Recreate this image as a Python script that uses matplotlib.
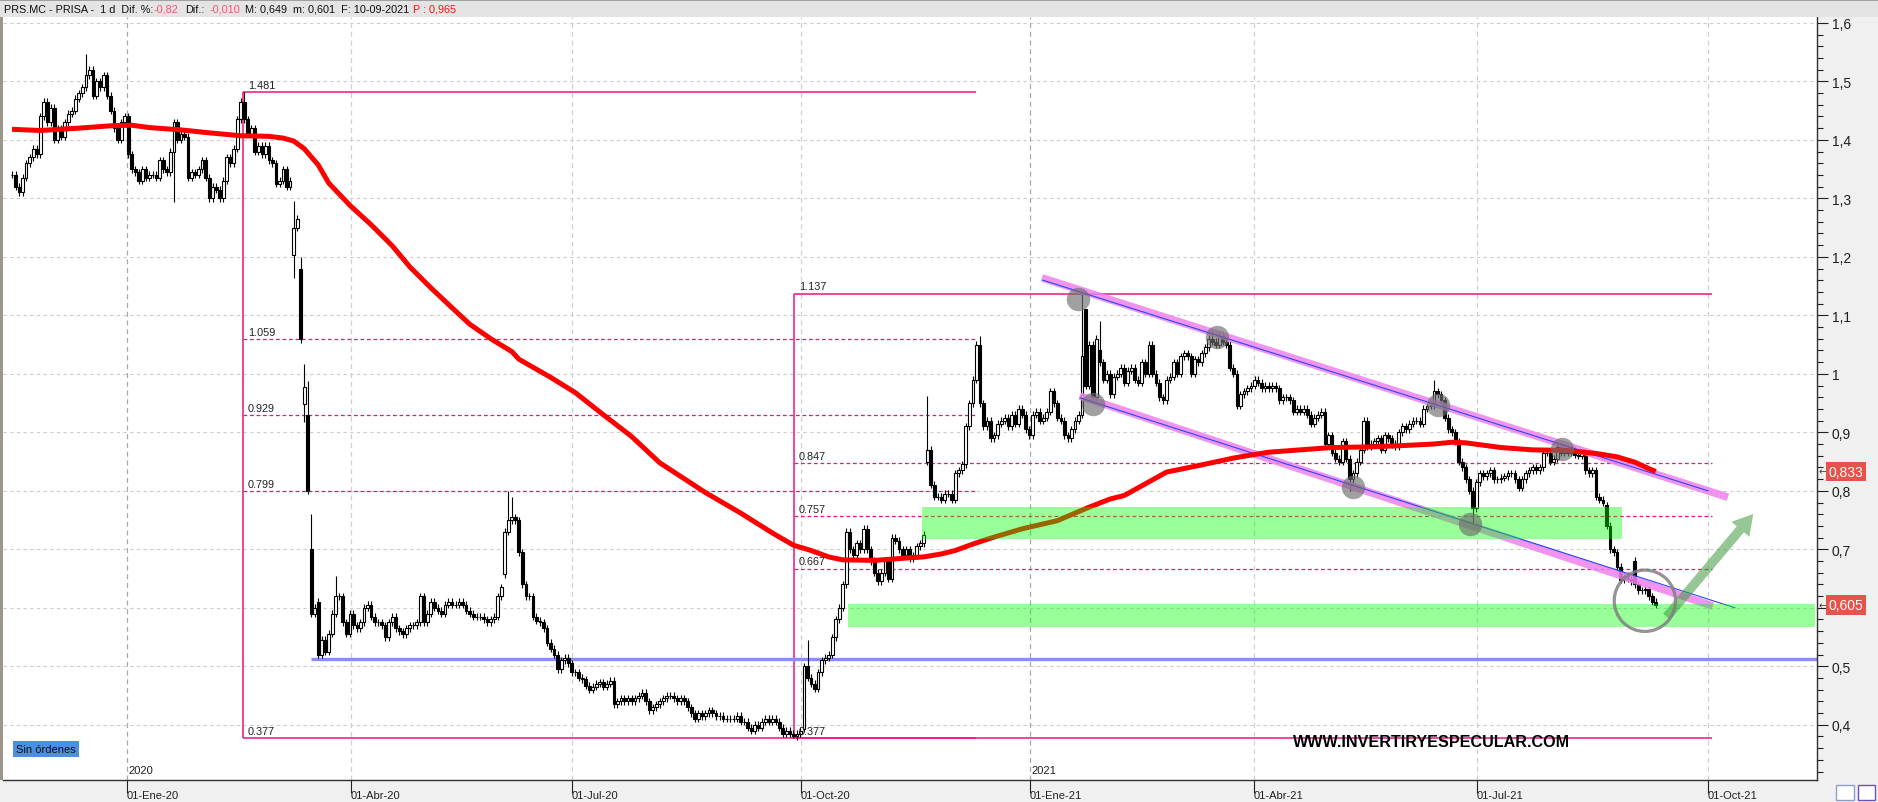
import matplotlib.pyplot as plt
import numpy as np
from matplotlib import font_manager
from matplotlib.patches import Rectangle, FancyArrowPatch
from matplotlib.ticker import MultipleLocator

# PRS.MC daily closes (one per session)
close = [
    1.34, 1.32, 1.31, 1.335, 1.36, 1.37, 1.385, 1.375, 1.44, 1.465,
    1.43, 1.455, 1.40, 1.42, 1.405, 1.43, 1.445, 1.45, 1.47, 1.48,
    1.49, 1.51, 1.52, 1.475, 1.50, 1.49, 1.51, 1.475, 1.45, 1.42,
    1.40, 1.43, 1.44, 1.375, 1.35, 1.345, 1.33, 1.35, 1.335, 1.34,
    1.34, 1.335, 1.365, 1.35, 1.345, 1.38, 1.43, 1.40, 1.41, 1.405,
    1.335, 1.345, 1.34, 1.35, 1.365, 1.335, 1.30, 1.32, 1.315, 1.30,
    1.33, 1.37, 1.36, 1.385, 1.435, 1.465, 1.435, 1.41, 1.42, 1.38,
    1.39, 1.375, 1.39, 1.365, 1.36, 1.325, 1.33, 1.35, 1.32, 1.33,
    1.25, 1.265, 1.059, 0.978, 0.80, 0.59, 0.60, 0.52, 0.545, 0.525,
    0.556, 0.59, 0.62, 0.62, 0.575, 0.556, 0.59, 0.57, 0.565, 0.575,
    0.60, 0.605, 0.585, 0.575, 0.575, 0.57, 0.55, 0.575, 0.585, 0.565,
    0.56, 0.555, 0.565, 0.57, 0.57, 0.575, 0.62, 0.575, 0.59, 0.61,
    0.60, 0.595, 0.59, 0.605, 0.61, 0.605, 0.605, 0.61, 0.605, 0.595,
    0.59, 0.585, 0.585, 0.585, 0.58, 0.575, 0.58, 0.585, 0.62, 0.635,
    0.73, 0.75, 0.755, 0.75, 0.695, 0.64, 0.62, 0.62, 0.585, 0.578,
    0.575, 0.565, 0.54, 0.53, 0.52, 0.495, 0.51, 0.515, 0.505, 0.49,
    0.49, 0.48, 0.478, 0.467, 0.46, 0.465, 0.47, 0.473, 0.465, 0.47,
    0.475, 0.435, 0.44, 0.445, 0.44, 0.445, 0.44, 0.445, 0.45, 0.455,
    0.44, 0.425, 0.43, 0.435, 0.44, 0.445, 0.45, 0.45, 0.445, 0.44,
    0.445, 0.44, 0.43, 0.42, 0.41, 0.42, 0.415, 0.42, 0.425, 0.42,
    0.415, 0.415, 0.41, 0.41, 0.41, 0.41, 0.415, 0.405, 0.405, 0.395,
    0.39, 0.40, 0.395, 0.405, 0.41, 0.405, 0.41, 0.405, 0.395, 0.385,
    0.39, 0.385, 0.38, 0.385, 0.39, 0.50, 0.48, 0.47, 0.462, 0.49,
    0.51, 0.515, 0.52, 0.55, 0.58, 0.60, 0.64, 0.73, 0.70, 0.69,
    0.71, 0.70, 0.735, 0.70, 0.68, 0.66, 0.645, 0.66, 0.68, 0.65,
    0.72, 0.715, 0.70, 0.69, 0.70, 0.685, 0.69, 0.705, 0.71, 0.725,
    0.87, 0.81, 0.79, 0.79, 0.785, 0.795, 0.795, 0.785, 0.83, 0.835,
    0.845, 0.91, 0.95, 0.99, 1.05, 0.95, 0.91, 0.92, 0.89, 0.895,
    0.915, 0.92, 0.925, 0.91, 0.93, 0.915, 0.94, 0.93, 0.905, 0.895,
    0.93, 0.935, 0.92, 0.925, 0.935, 0.97, 0.95, 0.925, 0.92, 0.895,
    0.89, 0.905, 0.92, 0.93, 1.03, 0.98, 1.05, 0.96, 1.06, 1.02,
    0.99, 1.0, 0.965, 0.995, 1.0, 1.01, 0.985, 1.005, 1.01, 0.99,
    0.985, 1.02, 1.0, 1.05, 1.0, 0.985, 0.96, 0.955, 0.99, 0.995,
    1.02, 1.0, 1.03, 1.035, 1.03, 1.0, 1.025, 1.02, 1.035, 1.045,
    1.06, 1.055, 1.05, 1.065, 1.055, 1.05, 1.01, 1.0, 0.945, 0.965,
    0.97, 0.975, 0.98, 0.99, 0.985, 0.975, 0.98, 0.975, 0.98, 0.975,
    0.955, 0.96, 0.96, 0.955, 0.935, 0.94, 0.935, 0.94, 0.93, 0.915,
    0.925, 0.93, 0.935, 0.88, 0.895, 0.865, 0.855, 0.85, 0.885, 0.855,
    0.82, 0.83, 0.85, 0.87, 0.92, 0.875, 0.88, 0.885, 0.89, 0.87,
    0.895, 0.89, 0.88, 0.875, 0.90, 0.91, 0.905, 0.915, 0.92, 0.92,
    0.915, 0.94, 0.945, 0.945, 0.97, 0.965, 0.955, 0.925, 0.905, 0.90,
    0.885, 0.85, 0.84, 0.82, 0.80, 0.77, 0.815, 0.83, 0.825, 0.83,
    0.835, 0.82, 0.82, 0.822, 0.825, 0.83, 0.83, 0.82, 0.805, 0.82,
    0.83, 0.835, 0.84, 0.835, 0.84, 0.865, 0.865, 0.85, 0.855, 0.875,
    0.865, 0.87, 0.865, 0.87, 0.862, 0.86, 0.865, 0.835, 0.83, 0.835,
    0.79, 0.785, 0.78, 0.74, 0.70, 0.695, 0.67, 0.648, 0.655, 0.65,
    0.645, 0.64, 0.63, 0.63, 0.632, 0.62, 0.61, 0.605,
]
# sessions that opened with a gap (open != previous close)
gap_open = {80: 1.203, 82: 1.18, 83: 0.949, 84: 0.93, 85: 0.70, 87: 0.61,
            140: 0.657, 225: 0.393, 237: 0.64, 260: 0.85, 304: 0.93, 305: 1.11,
            308: 0.96, 309: 1.04, 453: 0.775, 461: 0.68}
# visible long wicks
hi_spike = {21: 1.547, 66: 1.481, 80: 1.296, 82: 1.20, 83: 1.017, 84: 0.988,
            85: 0.76, 92: 0.655, 141: 0.80, 142: 0.79, 226: 0.545, 260: 0.962,
            275: 1.065, 304: 1.137, 305: 1.11, 309: 1.09, 341: 1.075, 404: 0.99}
lo_spike = {46: 1.294, 80: 1.164, 83: 0.918, 87: 0.515, 222: 0.377,
            380: 0.80, 415: 0.745}

# red moving average
ma_days = [0, 8, 19, 28, 34, 39, 48, 56, 65, 73, 77, 80, 83, 87, 90, 96, 102, 108, 113, 119,
           125, 130, 136, 142, 144, 153, 160, 168, 176, 184, 197, 207, 216, 222, 227, 232, 236,
           245, 254, 259, 264, 268, 273, 278, 287, 297, 306, 312, 316, 328, 337, 347, 357, 366,
           375, 385, 394, 404, 409, 413, 423, 432, 442, 451, 456, 461, 465, 467]
ma_vals = [1.418, 1.416, 1.420, 1.424, 1.425, 1.421, 1.417, 1.412, 1.407, 1.406, 1.403, 1.398,
           1.385, 1.357, 1.326, 1.288, 1.255, 1.219, 1.183, 1.147, 1.113, 1.085, 1.060, 1.038,
           1.025, 0.994, 0.968, 0.930, 0.893, 0.848, 0.797, 0.762, 0.728, 0.707, 0.698, 0.687,
           0.682, 0.681, 0.685, 0.687, 0.692, 0.698, 0.709, 0.719, 0.735, 0.749, 0.772, 0.786,
           0.792, 0.832, 0.843, 0.856, 0.866, 0.870, 0.874, 0.875, 0.877, 0.880, 0.883, 0.882,
           0.874, 0.870, 0.869, 0.863, 0.858, 0.849, 0.838, 0.833]

tick_days = [32.7, 96.3, 159.1, 224.1, 289.2, 352.8, 416.2, 481.8]
tick_labels = ['01-Ene-20', '01-Abr-20', '01-Jul-20', '01-Oct-20',
               '01-Ene-21', '01-Abr-21', '01-Jul-21', '01-Oct-21']
year_days = [32.7, 289.2]
year_labels = ['2020', '2021']
ylevels = [0.4, 0.5, 0.6, 0.7, 0.8, 0.9, 1.0, 1.1, 1.2, 1.3, 1.4, 1.5, 1.6]
# 0,6 sits under the 0,605 price tag in the original
ylabels = ['0,4', '0,5', '', '0,7', '0,8', '0,9', '1', '1,1', '1,2', '1,3', '1,4', '1,5', '1,6']

# fibonacci retracements: anchor day, end day, levels (top, 61.8, 50, 38.2, bottom)
fib1_x, fib1_end = 65.6, 273.9
fib1_levels = [1.481, 1.059, 0.929, 0.799, 0.377]
fib2_x, fib2_end = 222.2, 483.0
fib2_levels = [1.137, 0.847, 0.757, 0.667, 0.377]

support_level, support_start = 0.513, 85.0
zones = [(258.5, 457.4, 0.718, 0.773), (237.5, 512.2, 0.567, 0.607)]
chan_up = ([292.6, 487.5], [1.164, 0.789])
chan_up_thin = ([292.9, 481.8], [1.160, 0.800])
chan_lo = ([303.4, 483.2], [0.962, 0.603])
chan_lo_thin = ([303.4, 489.5], [0.959, 0.600])
touch_days = [302.8, 307.1, 342.3, 381.0, 405.1, 414.2, 440.3]
touch_vals = [1.128, 0.948, 1.063, 0.807, 0.947, 0.743, 0.872]
ring_day, ring_val = 463.9, 0.612
arrow_from, arrow_to = (469.6, 0.581), (495.2, 0.764)
tags = [0.833, 0.605]

names = {f.name for f in font_manager.fontManager.ttflist}
narrow = 'Liberation Sans Narrow' in names
plt.rcParams['font.family'] = ['Liberation Sans', 'DejaVu Sans']

W, H = 1878, 803
fig = plt.figure(figsize=(W / 100, H / 100), dpi=100)
fig.patch.set_facecolor('#f0f0f0')
ax = fig.add_axes([3 / W, 1 - 781 / H, (1817 - 3) / W, (781 - 18) / H])
ax.set_facecolor('white')
ax.set_xlim(-2.56, 512.8)
ax.set_ylim(0.3056, 1.610)

# grid
for y in ylevels:
    ax.axhline(y, color='#cdcdcd', lw=0.8, ls=(0, (3, 3)), zorder=0)
for d in tick_days:
    c = '#a8a8a8' if d in year_days else '#d0d0d0'
    ax.axvline(d, color=c, lw=0.9, ls=(0, (4, 3)), zorder=0)

# candles
c = np.array(close)
days = np.arange(len(c))
o = np.r_[c[0], c[:-1]]
for d, v in gap_open.items():
    o[d] = v
top = np.maximum(o, c)
bot = np.minimum(o, c)
hi = top + 0.006
lo = bot - 0.006
for d, v in hi_spike.items():
    hi[d] = v
for d, v in lo_spike.items():
    lo[d] = v
up = c >= o
ax.vlines(days, lo, hi, color='black', lw=0.8, zorder=3)
ax.bar(days[up], top[up] - bot[up], bottom=bot[up], width=0.8, facecolor='white',
       edgecolor='black', lw=0.8, zorder=4)
ax.bar(days[~up], top[~up] - bot[~up], bottom=bot[~up], width=0.8, facecolor='black',
       edgecolor='black', lw=0.8, zorder=4)

# fibonacci
fib_col = '#f0127c'
for fx0, fx1, levels in [(fib1_x, fib1_end, fib1_levels), (fib2_x, fib2_end, fib2_levels)]:
    ax.vlines(fx0, levels[-1], levels[0], color=fib_col, lw=1.1, zorder=2)
    for i, lv in enumerate(levels):
        if i in (0, len(levels) - 1):
            ax.hlines(lv, fx0, fx1, color=fib_col, lw=1.1, zorder=2)
        else:
            ax.hlines(lv, fx0, fx1, color=fib_col, lw=0.9, ls=(0, (3, 2.2)), zorder=2)
        ax.text(fx0 + 1.4, lv + 0.004, f'{lv:.3f}', fontsize=7.8, va='bottom', ha='left',
                color='#202020', zorder=9)

ax.hlines(support_level, support_start, 512.8, color='#8c8cf5', lw=2.4, zorder=2)

# channel
ax.plot(*chan_up, color='#ee82ee', lw=5.5, alpha=0.85, solid_capstyle='butt', zorder=4.5)
ax.plot(*chan_lo, color='#ee82ee', lw=5.5, alpha=0.85, solid_capstyle='butt', zorder=4.5)
ax.plot(*chan_up_thin, color='#2a45ff', lw=0.8, zorder=4.6)
ax.plot(*chan_lo_thin, color='#2a45ff', lw=0.8, zorder=4.6)

# moving average
ax.plot(ma_days, ma_vals, color='#ff0000', lw=3.6, zorder=5, solid_capstyle='butt')

# zones
for x0, x1, y0, y1 in zones:
    ax.add_patch(Rectangle((x0, y0), x1 - x0, y1 - y0, facecolor=(0, 1, 0), alpha=0.4,
                           lw=0, zorder=6))

ax.scatter(touch_days, touch_vals, s=285, color='#6e6e6e', alpha=0.65, lw=0, zorder=8)
ax.scatter([ring_day], [ring_val], s=1950, facecolors='none', edgecolors='#808080',
           linewidths=2.3, alpha=0.85, zorder=8)
ax.add_patch(FancyArrowPatch(arrow_from, arrow_to,
                             arrowstyle='simple,head_length=0.9,head_width=1.05,tail_width=0.42',
                             mutation_scale=16, color='#3c9a3c', alpha=0.55, lw=0, zorder=7))

# texts inside the plot
for d, lab in zip(year_days, year_labels):
    ax.text(d + 0.3, 0.322, lab, fontsize=8, va='center', ha='left', color='#202020')
if narrow:
    ax.text(363.9, 0.371, 'WWW.INVERTIRYESPECULAR.COM', fontsize=14, weight='bold',
            family='Liberation Sans Narrow', va='center', ha='left')
else:
    ax.text(363.9, 0.371, 'WWW.INVERTIRYESPECULAR.COM', fontsize=11.6, weight='bold',
            va='center', ha='left')

# axes
for s in ['top', 'left']:
    ax.spines[s].set_visible(False)
for s in ['right', 'bottom']:
    ax.spines[s].set_color('#303030')
    ax.spines[s].set_linewidth(1.0)
ax.yaxis.tick_right()
ax.set_yticks(ylevels, ylabels)
ax.yaxis.set_minor_locator(MultipleLocator(0.02))
ax.tick_params(axis='y', which='major', length=8, width=0.8, pad=2.5, labelsize=10,
               colors='#202020')
ax.tick_params(axis='y', which='minor', length=4, width=0.8, colors='#202020')
ax.set_xticks(tick_days, tick_labels)
ax.tick_params(axis='x', length=9, width=0.8, pad=-2, labelsize=8, colors='#202020')
for lab in ax.get_xticklabels():
    lab.set_ha('left')

for v in tags:
    ax.text(1.0065, v, f'{v:.3f}'.replace('.', ','), transform=ax.get_yaxis_transform(),
            fontsize=10, color='white', va='center', ha='left', zorder=10,
            bbox=dict(boxstyle='square,pad=0.2', facecolor='#e5534b', edgecolor='none'))
    ax.text(1.0008, v, '←', transform=ax.get_yaxis_transform(), fontsize=7,
            family='DejaVu Sans', color='#404040', va='center', ha='left')

# header bar and frame bits
fig.patches.append(Rectangle((0, 1 - 18 / H), 1, 18 / H, transform=fig.transFigure,
                             facecolor='#e4e4e4', edgecolor='none'))
fig.patches.append(Rectangle((0, 1 - 1.5 / H), 1, 1.5 / H, transform=fig.transFigure,
                             facecolor='#a0a0a0', edgecolor='none'))
fig.patches.append(Rectangle((0, 1 - 781 / H), 3 / W, (781 - 18) / H, transform=fig.transFigure,
                             facecolor='#9c958c', edgecolor='none'))
fig.patches.append(Rectangle((1836 / W, 1 - 801 / H), 18 / W, 15 / H, transform=fig.transFigure,
                             facecolor='white', edgecolor='#8aa0c8', lw=1))
fig.patches.append(Rectangle((1858 / W, 1 - 801 / H), 17 / W, 15 / H, transform=fig.transFigure,
                             facecolor='white', edgecolor='#7050c0', lw=1))

hy = 1 - 10 / H
header = [(4, 'PRS.MC - PRISA -  1 d  Dif. %:', '#101010'),
          (154, '-0,82', '#f05a6e'),
          (185, 'Dif.:', '#101010'),
          (210, '-0,010', '#f05a6e'),
          (245, 'M: 0,649  m: 0,601  F: 10-09-2021', '#101010'),
          (413, 'P : 0,965', '#ff1010')]
for px, txt, col in header:
    fig.text(px / W, hy, txt, fontsize=7.8, color=col, va='center', ha='left')

fig.text(16 / W, 1 - 750 / H, 'Sin órdenes', fontsize=8, va='center', ha='left',
         color='#101010',
         bbox=dict(boxstyle='square,pad=0.25', facecolor='#4a90e2', edgecolor='none'))

fig.savefig('out.png', dpi=100, facecolor=fig.get_facecolor())
